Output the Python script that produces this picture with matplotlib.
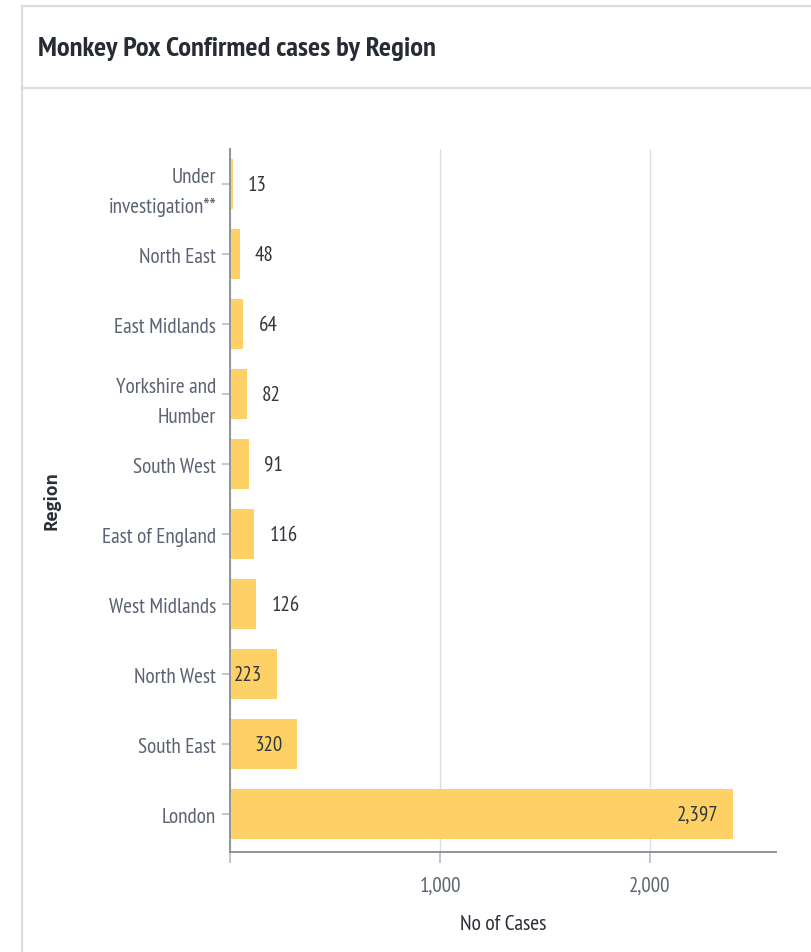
import matplotlib
matplotlib.use("Agg")
import matplotlib.pyplot as plt
from matplotlib import font_manager
from matplotlib.lines import Line2D

# data, bottom to top
regions = ["London", "South East", "North West", "West Midlands", "East of England",
           "South West", "Yorkshire and\nHumber", "East Midlands", "North East",
           "Under\ninvestigation**"]
cases = [2397, 320, 223, 126, 116, 91, 82, 64, 48, 13]
x_ticks = [0, 1000, 2000]
x_tick_labels = ["", "1,000", "2,000"]

# narrow sans close to the dashboard font
installed = {f.name for f in font_manager.fontManager.ttflist}
base = next((n for n in ["PT Sans Narrow", "Fira Sans Condensed"] if n in installed),
            "DejaVu Sans")
narrow = [base, "DejaVu Sans"]
stretch = "normal" if base != "DejaVu Sans" else "condensed"

bar_color = "#fdd166"
label_color = "#5b6272"
value_color = "#33363d"
border_color = "#d9dde2"

fig = plt.figure(figsize=(8.11, 9.53), dpi=100)
W, H = 811, 953

# card outline and header separator
def fig_line(x0, y0, x1, y1):
    fig.add_artist(Line2D([x0 / W, x1 / W], [1 - y0 / H, 1 - y1 / H],
                          color=border_color, linewidth=1.6, transform=fig.transFigure))

fig_line(22, 7, W, 7)
fig_line(22, 7, 22, H)
fig_line(22, 89, W, 89)

fig.text(38 / W, 1 - 49 / H, "Monkey Pox Confirmed cases by Region", family=narrow,
         fontstretch=stretch, fontsize=20.5, fontweight="bold", color="#272b33",
         va="center", ha="left")

ax = fig.add_axes([230 / W, 1 - 853 / H, (776 - 230) / W, (853 - 150) / H])
ypos = list(range(len(regions)))
ax.barh(ypos, cases, height=0.71, color=bar_color, zorder=2)

ax.set_xlim(0, 2600)
ax.set_ylim(-0.54, 9.5)
ax.set_yticks(ypos)
ax.set_yticklabels(regions, family=narrow, fontstretch=stretch, fontsize=15.3,
                   color=label_color, linespacing=1.7)
ax.set_xticks(x_ticks)
ax.set_xticklabels(x_tick_labels, family=narrow, fontstretch=stretch, fontsize=15,
                   color=label_color)
ax.tick_params(axis="y", length=6, width=1.2, color="#b8bcc4", pad=4)
ax.tick_params(axis="x", length=8, width=1.2, color="#b8bcc4", pad=9)

ax.grid(axis="x", color="#dcdfe4", linewidth=1, zorder=0)
for s in ["top", "right"]:
    ax.spines[s].set_visible(False)
for s in ["left", "bottom"]:
    ax.spines[s].set_color("#8e939c")
    ax.spines[s].set_linewidth(1.4)

ax.set_xlabel("No of Cases", family=narrow, fontstretch=stretch, fontsize=15.5,
              color="#2b2f38", labelpad=14)
fig.text(52 / W, 1 - 500 / H, "Region", rotation=90, fontsize=12.5, fontweight="bold",
         family=["Open Sans", "DejaVu Sans"], color="#2b2f38", ha="center", va="center")

# value labels, inside the bar when there is room
px = 2600 / (776 - 230)
for y, v in zip(ypos, cases):
    txt = f"{v:,}"
    inside = v >= 200
    ax.text(v - 15 * px if inside else v + 15 * px, y, txt,
            ha="right" if inside else "left", va="center", family=narrow,
            fontstretch=stretch, fontsize=15, color=value_color, zorder=3)

fig.savefig("out.png", dpi=100)
